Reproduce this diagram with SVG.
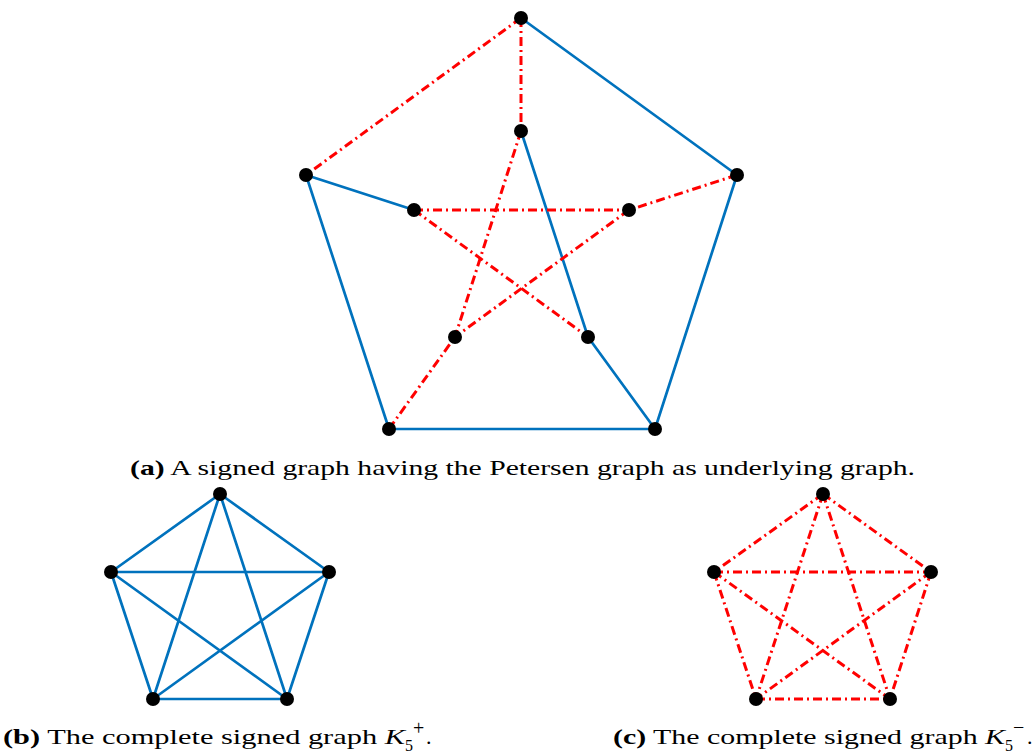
<svg xmlns="http://www.w3.org/2000/svg" width="1035" height="753" viewBox="0 0 1035 753">
<style>
.p{stroke:#0072BD;stroke-width:2.7;fill:none;stroke-linecap:round}
.n{stroke:#FF0000;stroke-width:3;fill:none;stroke-dasharray:9 4 2 4}
.v{fill:#000}
.cap{font-family:"Liberation Serif",serif;font-size:22px;fill:#000}
.s{font-family:"Liberation Serif",serif;font-size:16px;fill:#000}
.o{font-family:"Liberation Serif",serif;font-size:20px;fill:#000}
.b{font-weight:bold}
</style>
<rect width="1035" height="753" fill="#fff"/>
<g id="connectors">
<!-- Petersen -->
<line class="n" x1="521" y1="18" x2="306" y2="175"/>
<line class="p" x1="521" y1="18" x2="737" y2="175"/>
<line class="p" x1="306" y1="175" x2="389" y2="429"/>
<line class="p" x1="737" y1="175" x2="655" y2="429"/>
<line class="p" x1="389" y1="429" x2="655" y2="429"/>
<line class="n" x1="521" y1="18" x2="521" y2="131"/>
<line class="p" x1="306" y1="175" x2="414" y2="210"/>
<line class="n" x1="737" y1="175" x2="629" y2="210"/>
<line class="n" x1="389" y1="429" x2="455" y2="337"/>
<line class="p" x1="655" y1="429" x2="588" y2="337"/>
<line class="n" x1="521" y1="131" x2="455" y2="337"/>
<line class="p" x1="521" y1="131" x2="588" y2="337"/>
<line class="n" x1="414" y1="210" x2="629" y2="210"/>
<line class="n" x1="414" y1="210" x2="588" y2="337"/>
<line class="n" x1="629" y1="210" x2="455" y2="337"/>
<!-- K5+ -->
<line class="p" x1="220" y1="494" x2="111" y2="572"/>
<line class="p" x1="220" y1="494" x2="329" y2="572"/>
<line class="p" x1="220" y1="494" x2="153" y2="699"/>
<line class="p" x1="220" y1="494" x2="287" y2="699"/>
<line class="p" x1="111" y1="572" x2="329" y2="572"/>
<line class="p" x1="111" y1="572" x2="153" y2="699"/>
<line class="p" x1="111" y1="572" x2="287" y2="699"/>
<line class="p" x1="329" y1="572" x2="153" y2="699"/>
<line class="p" x1="329" y1="572" x2="287" y2="699"/>
<line class="p" x1="153" y1="699" x2="287" y2="699"/>
<!-- K5- -->
<line class="n" x1="823" y1="494" x2="714" y2="572"/>
<line class="n" x1="823" y1="494" x2="931" y2="572"/>
<line class="n" x1="823" y1="494" x2="756" y2="699"/>
<line class="n" x1="823" y1="494" x2="890" y2="699"/>
<line class="n" x1="714" y1="572" x2="931" y2="572"/>
<line class="n" x1="714" y1="572" x2="756" y2="699"/>
<line class="n" x1="714" y1="572" x2="890" y2="699"/>
<line class="n" x1="931" y1="572" x2="756" y2="699"/>
<line class="n" x1="931" y1="572" x2="890" y2="699"/>
<line class="n" x1="756" y1="699" x2="890" y2="699"/>
</g>
<g id="a1"><circle class="v" cx="521" cy="18" r="7"/></g>
<g id="a2"><circle class="v" cx="306" cy="175" r="7"/></g>
<g id="a3"><circle class="v" cx="737" cy="175" r="7"/></g>
<g id="a4"><circle class="v" cx="389" cy="429" r="7"/></g>
<g id="a5"><circle class="v" cx="655" cy="429" r="7"/></g>
<g id="a6"><circle class="v" cx="521" cy="131" r="7"/></g>
<g id="a7"><circle class="v" cx="414" cy="210" r="7"/></g>
<g id="a8"><circle class="v" cx="629" cy="210" r="7"/></g>
<g id="a9"><circle class="v" cx="455" cy="337" r="7"/></g>
<g id="a10"><circle class="v" cx="588" cy="337" r="7"/></g>
<g id="b1"><circle class="v" cx="220" cy="494" r="7"/></g>
<g id="b2"><circle class="v" cx="111" cy="572" r="7"/></g>
<g id="b3"><circle class="v" cx="329" cy="572" r="7"/></g>
<g id="b4"><circle class="v" cx="153" cy="699" r="7"/></g>
<g id="b5"><circle class="v" cx="287" cy="699" r="7"/></g>
<g id="c1"><circle class="v" cx="823" cy="494" r="7"/></g>
<g id="c2"><circle class="v" cx="714" cy="572" r="7"/></g>
<g id="c3"><circle class="v" cx="931" cy="572" r="7"/></g>
<g id="c4"><circle class="v" cx="756" cy="699" r="7"/></g>
<g id="c5"><circle class="v" cx="890" cy="699" r="7"/></g>
<g id="captions">
<text class="cap" x="130" y="475" textLength="785" lengthAdjust="spacingAndGlyphs"><tspan class="b">(a)</tspan> A signed graph having the Petersen graph as underlying graph.</text>
<text class="cap" x="3" y="744" textLength="402" lengthAdjust="spacingAndGlyphs"><tspan class="b">(b)</tspan> The complete signed graph <tspan font-style="italic">K</tspan></text>
<text class="s" x="405" y="751">5</text>
<text class="o" x="413" y="735">+</text>
<text class="cap" x="426" y="744">.</text>
<text class="cap" x="613" y="744" textLength="392" lengthAdjust="spacingAndGlyphs"><tspan class="b">(c)</tspan> The complete signed graph <tspan font-style="italic">K</tspan></text>
<text class="s" x="1005" y="751">5</text>
<text class="o" x="1013" y="734">−</text>
<text class="cap" x="1027" y="744">.</text>
</g>
</svg>
